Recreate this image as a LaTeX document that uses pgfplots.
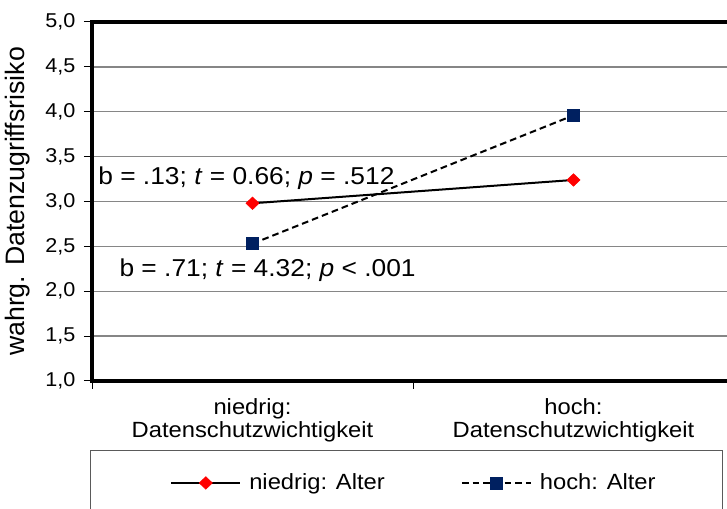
\documentclass[border=0pt]{standalone}
\usepackage{pgfplots}
\pgfplotsset{compat=1.18}
\usepackage{fontspec}
\setmainfont{Liberation Sans}[FakeStretch=1.08]
\newfontfamily\ylabfont{Liberation Sans}
\definecolor{navy}{RGB}{0,32,96}
\definecolor{gridgray}{RGB}{134,134,134}
\definecolor{legframe}{RGB}{90,90,90}
\begin{document}
\begin{tikzpicture}
\useasboundingbox (0,0) rectangle (545.25pt,381.75pt);
\clip (0,0) rectangle (545.25pt,381.75pt);
\begin{axis}[
  at={(69pt,96pt)}, anchor=south west,
  scale only axis, width=481.5pt, height=269.25pt,
  xmin=0.5, xmax=2.5, ymin=1, ymax=5,
  clip=false,
  ytick={1,1.5,2,2.5,3,3.5,4,4.5,5},
  xtick={0.5,1.5,2.5}, xticklabels={,,},
  extra x ticks={1,2},
  extra x tick labels={{niedrig:\\Datenschutzwichtigkeit},{hoch:\\Datenschutzwichtigkeit}},
  extra x tick style={major tick length=0pt},
  xtick pos=bottom, ytick pos=left,
  tick align=outside, major tick length=6pt,
  tick style={black, line width=0.75pt},
  axis line style={black, line width=2.5pt},
  ymajorgrids, major grid style={gridgray, line width=1pt},
  /pgf/number format/assume math mode=true,
  /pgf/number format/.cd, use comma, fixed, fixed zerofill, precision=1, /pgfplots/.cd,
  yticklabel style={font=\fontsize{15}{17}\selectfont, xshift=-3pt},
  xticklabel style={align=center, font=\fontsize{16.5}{17.25}\selectfont, yshift=-10pt},
  ylabel={\ylabfont wahrg. Datenzugriffsrisiko},
  ylabel style={at={(axis description cs:-0.1153,0.5)}, anchor=center, font=\fontsize{20}{22}\selectfont},
  legend columns=2,
  legend style={at={(axis description cs:0.1215,-0.284)}, anchor=west, draw=none, fill=none, inner sep=0pt,
    nodes={inner sep=0pt, font=\fontsize{16.5}{18}\selectfont},
    /tikz/every odd column/.append style={column sep=6pt},
    /tikz/every even column/.append style={column sep=57pt}},
  legend image code/.code={\draw[mark repeat=2,mark phase=2,#1] plot coordinates {(0pt,0pt) (25.9pt,0pt) (51.75pt,0pt)};},
]
\addplot[black, line width=1.5pt, mark=diamond*, mark size=4.7pt,
  mark options={solid, fill=red, draw=red, line width=0.4pt, xscale=1.4}]
  coordinates {(1,2.98) (2,3.24)};
\addlegendentry{niedrig: Alter}
\addplot[black, line width=1.5pt, dash pattern=on 5pt off 3pt, mark=square*, mark size=4.5pt,
  mark options={solid, fill=navy, draw=navy, line width=0.4pt}]
  coordinates {(1,2.53) (2,3.96)};
\addlegendentry{hoch: Alter}
\draw[black, line width=2.5pt, line cap=rect] (rel axis cs:1,1) -- (rel axis cs:0,1) -- (rel axis cs:0,0) -- (rel axis cs:1,0);
\node[anchor=base, font=\fontsize{18.3}{20}\selectfont] at (axis cs:0.981,3.184) {b = .13; \textit{t} = 0.66; \textit{p} = .512};
\node[anchor=base, font=\fontsize{18.3}{20}\selectfont] at (axis cs:1.047,2.159) {b = .71; \textit{t} = 4.32; \textit{p} < .001};
\end{axis}
\draw[legframe, line width=0.75pt] (67.5pt,43.5pt) rectangle (541.5pt,-10pt);
\end{tikzpicture}
\end{document}
